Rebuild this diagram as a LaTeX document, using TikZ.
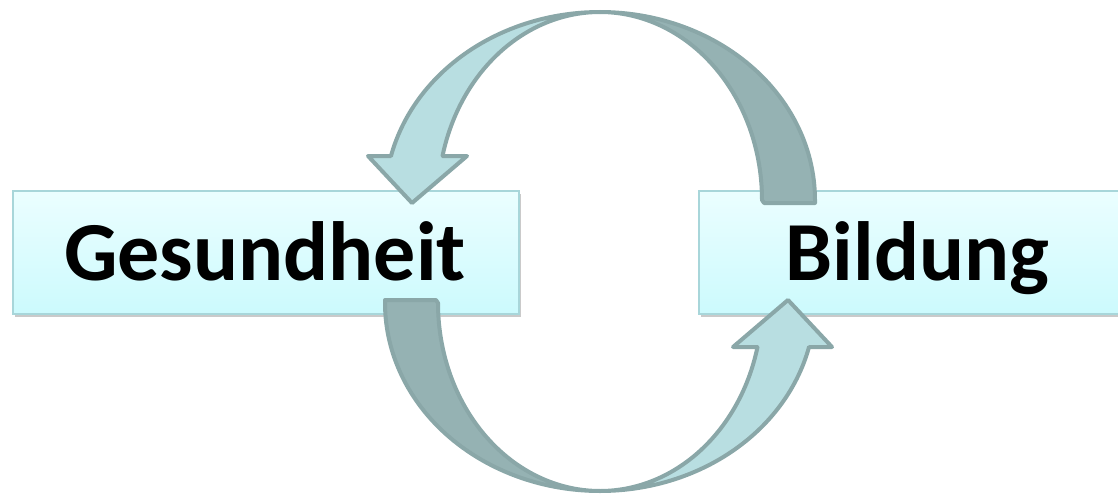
\documentclass[tikz,border=0pt]{standalone}
\usepackage{fontspec}
\setmainfont{Carlito}
\usetikzlibrary{shadows}
\definecolor{boxtop}{HTML}{EBFEFF}
\definecolor{boxbot}{HTML}{CCFAFD}
\definecolor{boxline}{HTML}{A8D6DA}
\definecolor{arrlight}{HTML}{B8DEE1}
\definecolor{arrdark}{HTML}{95B2B3}
\definecolor{arrline}{HTML}{8AA7A8}
\begin{document}
\begin{tikzpicture}[x=1pt,y=-1pt,
  labelbox/.style={draw=boxline, line width=1.8pt, top color=boxtop, bottom color=boxbot,
    inner sep=0pt, anchor=north west,
    drop shadow={shadow xshift=2pt,shadow yshift=-3pt,opacity=0.35,fill=black!60}},
  lightpart/.style={fill=arrlight, draw=arrline, line width=4pt, line join=round},
  darkpart/.style={fill=arrdark, draw=arrline, line width=4pt, line join=round},
  labeltext/.style={font=\bfseries\fontsize{84}{84}\selectfont, anchor=base, inner sep=0pt}]
\useasboundingbox (0,0) rectangle (1118,495);
% boxes
\node[labelbox, minimum width=506pt, minimum height=123pt] (gesbox) at (12,190) {};
\node[labelbox, minimum width=439pt, minimum height=123pt] (bilbox) at (698,190) {};
\node[labeltext] (gestext) at (265,280) {Gesundheit};
\node[labeltext] (biltext) at (917.5,280) {Bildung};
% arrows
\foreach \rot in {0,180}{
\begin{scope}[rotate around={\rot:(600,251.5)}]
  % light part with arrow head
  \path[lightpart] (391,156) -- (368,156) -- (412,203) -- (467,156) -- (442.5,156)
    -- plot[domain=166.5:90, samples=60] ({600+162*cos(\x)},{200-188*sin(\x)})
    -- plot[domain=90:166.5, samples=60] ({600+215*cos(\x)},{200-188*sin(\x)}) -- cycle;
  % dark part with tail
  \path[darkpart] (815,200) -- (815,203) -- (764,203) -- (762,200)
    -- plot[domain=0:90, samples=60] ({600+162*cos(\x)},{200-188*sin(\x)})
    -- plot[domain=90:0, samples=60] ({600+215*cos(\x)},{200-188*sin(\x)}) -- cycle;
\end{scope}
}
\end{tikzpicture}
\end{document}
